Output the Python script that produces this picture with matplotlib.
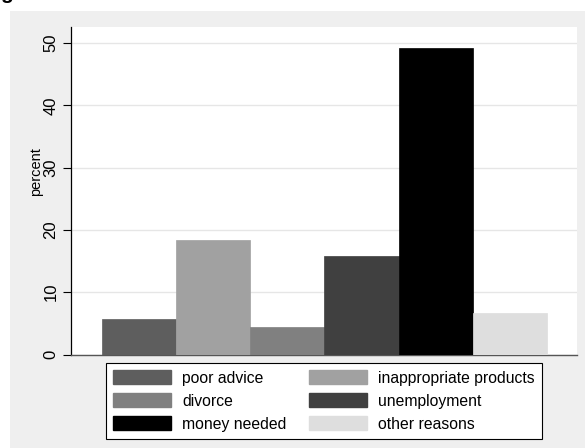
import matplotlib.pyplot as plt
from matplotlib.patches import Rectangle, Patch

# data
reasons = ["poor advice", "inappropriate products", "divorce",
           "unemployment", "money needed", "other reasons"]
percent = [5.7, 18.4, 4.4, 15.8, 49.2, 6.7]
colors = ["#5e5e5e", "#a1a1a1", "#808080", "#404040", "#000000", "#dedede"]
yticks = [0, 10, 20, 30, 40, 50]

W, H = 585, 448
fig = plt.figure(figsize=(W / 100, H / 100), dpi=100)
fig.patch.set_facecolor("white")
plt.rcParams["font.family"] = ["Liberation Sans", "DejaVu Sans"]

# gray graph region
fig.patches.append(Rectangle((10 / W, 0), 1 - 10 / W, 1 - 11 / H,
                             transform=fig.transFigure, facecolor="#efefef",
                             edgecolor="none", zorder=-5))

# cut-off title fragment at the very top
fig.text(0.0 / W, 1 + 1 / H, "g", fontsize=15, fontweight="bold",
         ha="left", va="baseline", zorder=5)

ax = fig.add_axes([71 / W, 1 - 354.5 / H, (577 - 71) / W, (354.5 - 27) / H])
ax.set_facecolor("white")
ax.set_zorder(1)

for i, (r, v, c) in enumerate(zip(reasons, percent, colors)):
    ax.bar(i, v, width=1, align="edge", color=c, edgecolor=c,
           linewidth=0.5, zorder=3)

ax.set_xlim(-0.414, 6.404)
ax.set_ylim(0, 52.6)
ax.set_xticks([])
ax.set_yticks(yticks)
ax.set_yticklabels([str(t) for t in yticks], rotation=90, va="center",
                   fontsize=12)
ax.tick_params(axis="y", length=6, width=0.8, pad=3, color="black")
ax.yaxis.grid(True, color="#e6e6e6", linewidth=1.0, zorder=0)
ax.set_axisbelow(True)

for s in ["top", "right"]:
    ax.spines[s].set_visible(False)
ax.spines["left"].set_color("black")
ax.spines["left"].set_linewidth(0.9)
ax.spines["bottom"].set_color("#555555")
ax.spines["bottom"].set_linewidth(1.0)

ax.set_ylabel("percent", fontsize=10.5)
ax.yaxis.set_label_coords((43 - 71) / 506, (354.5 - 172) / 327.5)

# legend, Stata-like row order in two columns
handles = [Patch(facecolor=c, edgecolor=c) for c in colors]
order = [0, 2, 4, 1, 3, 5]
leg = fig.legend([handles[k] for k in order], [reasons[k] for k in order],
                 ncol=2, loc="center", mode="expand",
                 bbox_to_anchor=(106 / W, 1 - 437 / H, (542 - 106) / W, (437 - 365) / H),
                 fontsize=11.3, frameon=True, fancybox=False,
                 handlelength=3.7, handleheight=0.95, handletextpad=0.7,
                 labelspacing=0.5, borderpad=0.45, borderaxespad=0)
leg.get_frame().set_edgecolor("black")
leg.get_frame().set_linewidth(0.8)
leg.get_frame().set_facecolor("white")
leg.get_frame().set_alpha(1)

fig.savefig("out.png", dpi=100)
